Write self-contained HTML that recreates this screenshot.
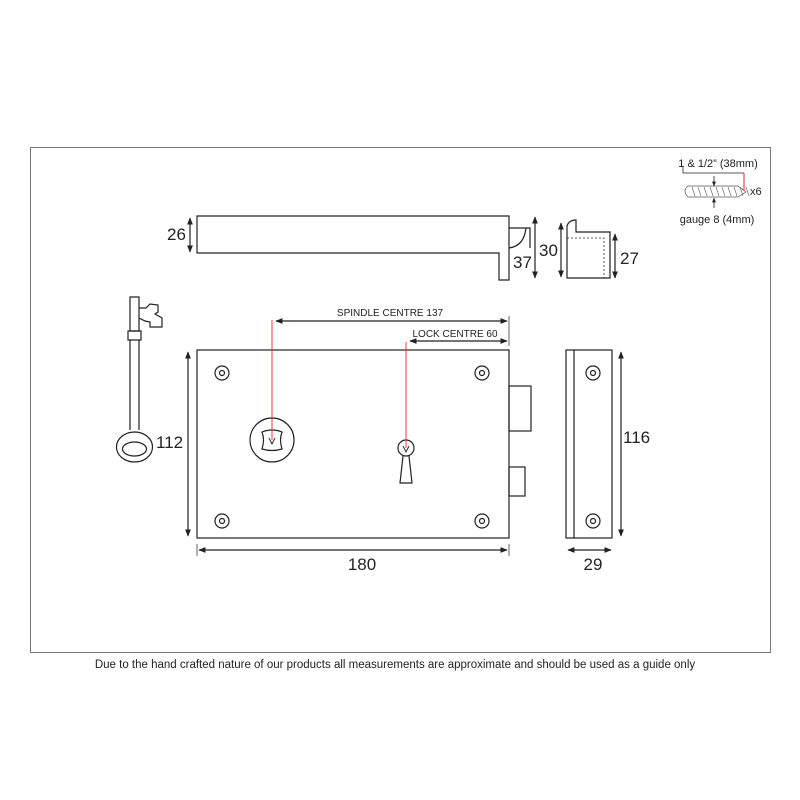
<!DOCTYPE html>
<html><head><style>
body{margin:0;background:#fff;}
svg{display:block;}
text{font-family:"Liberation Sans",sans-serif;fill:#222;}
</style></head><body>
<svg width="800" height="800" viewBox="0 0 800 800" xmlns="http://www.w3.org/2000/svg">
<defs>
<marker id="a" viewBox="0 0 10 10" refX="9" refY="5" markerWidth="6" markerHeight="6" orient="auto-start-reverse"><path d="M0,1 L10,5 L0,9 z" fill="#222"/></marker>
</defs>
<rect x="30.5" y="147.5" width="740" height="505" fill="none" stroke="#777" stroke-width="1"/>
<text x="395" y="668" font-size="11.5" text-anchor="middle">Due to the hand crafted nature of our products all measurements are approximate and should be used as a guide only</text>

<g fill="none" stroke="#222" stroke-width="1.2">
<!-- top view -->
<path d="M197,216 H509 V280 H499 V253 H197 Z"/>
<path d="M509,228 H530 V248"/>
<path d="M509,248 Q524,246 526,228"/>
<line x1="190" y1="218" x2="190" y2="252" marker-start="url(#a)" marker-end="url(#a)"/>
<line x1="535" y1="217" x2="535" y2="278" marker-start="url(#a)" marker-end="url(#a)"/>
<!-- side keep -->
<path d="M567,278 V226 Q569,220 576,220 V232 H610 V278 Z"/>
<path d="M567,238 H604 V278" stroke-dasharray="2,2" stroke-width="0.8"/>
<line x1="561" y1="223" x2="561" y2="277" marker-start="url(#a)" marker-end="url(#a)"/>
<line x1="615" y1="234" x2="615" y2="278" marker-start="url(#a)" marker-end="url(#a)"/>

<!-- screw -->
<path d="M683,173 H744" stroke-width="0.8"/>
<path d="M683,166 V173" stroke-width="0.8"/>
<path d="M688,186 Q682,191 688,197 H738 L746,192 L738,186 Z" stroke-width="0.7" stroke="#555"/>
<path d="M692,187 l3,9 m3,-9 l3,9 m3,-9 l3,9 m3,-9 l3,9 m3,-9 l3,9 m3,-9 l3,9 m3,-9 l3,9 m3,-9 l3,9 m3,-9 l3,9 m3,-9 l3,9" stroke-width="0.6" stroke="#555"/>
<line x1="714" y1="176" x2="714" y2="186" stroke-width="0.8" marker-end="url(#a)"/>
<line x1="714" y1="208" x2="714" y2="198" stroke-width="0.8" marker-end="url(#a)"/>

<!-- main body -->
<rect x="197" y="350" width="312" height="188"/>
<rect x="509" y="386" width="22" height="45"/>
<rect x="509" y="467" width="16" height="29"/>
<circle cx="222" cy="373" r="7"/><circle cx="222" cy="373" r="2.5"/>
<circle cx="482" cy="373" r="7"/><circle cx="482" cy="373" r="2.5"/>
<circle cx="222" cy="521" r="7"/><circle cx="222" cy="521" r="2.5"/>
<circle cx="482" cy="521" r="7"/><circle cx="482" cy="521" r="2.5"/>
<circle cx="272" cy="440" r="22"/>
<path d="M262,432 Q272,428 282,432 Q279,440 282,449 Q272,452 262,449 Q265,440 262,432 Z"/>
<circle cx="406" cy="448" r="8"/>
<path d="M403,456 L400,483 H412 L409,456"/>
<path d="M269,438 L272,444 L275,438 M403,446 L406,452 L409,446" stroke-width="0.9"/>
<line x1="188" y1="352" x2="188" y2="536" marker-start="url(#a)" marker-end="url(#a)"/>
<line x1="199" y1="550" x2="507" y2="550" marker-start="url(#a)" marker-end="url(#a)"/>
<line x1="509" y1="544" x2="509" y2="556" stroke-width="0.7"/>
<line x1="197" y1="544" x2="197" y2="556" stroke-width="0.7"/>
<line x1="276" y1="321" x2="507" y2="321" marker-start="url(#a)" marker-end="url(#a)"/>
<line x1="410" y1="341" x2="507" y2="341" marker-start="url(#a)" marker-end="url(#a)"/>
<line x1="509" y1="316" x2="509" y2="346" stroke-width="0.7"/>

<!-- side view -->
<rect x="566" y="350" width="46" height="188"/>
<line x1="574" y1="350" x2="574" y2="538"/>
<circle cx="593" cy="373" r="7"/><circle cx="593" cy="373" r="2.5"/>
<circle cx="593" cy="521" r="7"/><circle cx="593" cy="521" r="2.5"/>
<line x1="621" y1="352" x2="621" y2="536" marker-start="url(#a)" marker-end="url(#a)"/>
<line x1="568" y1="550" x2="611" y2="550" marker-start="url(#a)" marker-end="url(#a)"/>

<!-- key -->
<path d="M130,297 H139 V331 H130 Z"/>
<path d="M128,331 H141 V340 H128 Z"/>
<path d="M130,340 V430 M139,340 V430"/>
<ellipse cx="134.5" cy="447" rx="18" ry="15"/>
<ellipse cx="134.5" cy="449" rx="12" ry="7"/>
<path d="M139,308 H146 L150,304 L158,305 V312 L155,314 L162,318 V327 H150 V322 L145,321 L139,318"/>
</g>
<line x1="272" y1="320" x2="272" y2="440" stroke="#e23" stroke-width="0.9"/>
<line x1="406" y1="342" x2="406" y2="448" stroke="#e23" stroke-width="0.9"/>
<line x1="744" y1="173" x2="744" y2="190" stroke="#e23" stroke-width="1"/>

<g font-size="17">
<text x="167" y="240">26</text>
<text x="513" y="268">37</text>
<text x="539" y="256">30</text>
<text x="620" y="264">27</text>
<text x="156" y="448">112</text>
<text x="362" y="570" text-anchor="middle">180</text>
<text x="623" y="443">116</text>
<text x="593" y="570" text-anchor="middle">29</text>
</g>
<g font-size="10">
<text x="390" y="316" text-anchor="middle">SPINDLE CENTRE 137</text>
<text x="455" y="337" text-anchor="middle">LOCK CENTRE 60</text>
</g>
<g font-size="11">
<text x="718" y="167" text-anchor="middle">1 &amp; 1/2” (38mm)</text>
<text x="750" y="195">x6</text>
<text x="717" y="223" text-anchor="middle">gauge 8 (4mm)</text>
</g>
</svg>
</body></html>
